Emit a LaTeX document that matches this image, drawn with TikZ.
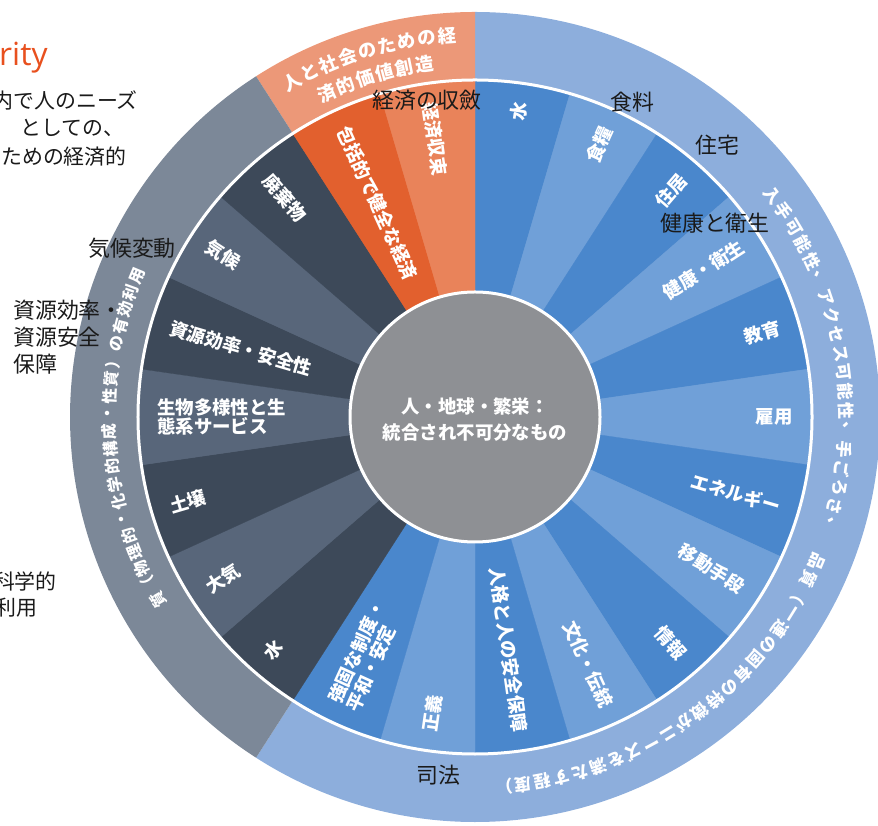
\documentclass[tikz,border=0pt]{standalone}
\usepackage{fontspec}
\setmainfont{Noto Sans CJK JP}
\newfontfamily\latinfont{Open Sans}
\definecolor{ringblue}{HTML}{8DAEDC}
\definecolor{ringorange}{HTML}{EC9878}
\definecolor{ringgray}{HTML}{7C8898}
\definecolor{bA}{HTML}{4A87CC}
\definecolor{bB}{HTML}{70A0D8}
\definecolor{gA}{HTML}{3D4959}
\definecolor{gB}{HTML}{58667A}
\definecolor{oA}{HTML}{E2602E}
\definecolor{oB}{HTML}{E9835A}
\definecolor{coregray}{HTML}{8E9094}
\definecolor{rityred}{HTML}{E8501E}
\definecolor{ink}{HTML}{1A1A1A}
\begin{document}
\begin{tikzpicture}[x=1bp,y=1bp,
  seglabel/.style={text=white, inner sep=0pt, font=\fontsize{18.5}{20}\selectfont\bfseries},
  ringchar/.style={text=white, inner sep=0pt},
  blacklabel/.style={text=ink, inner sep=0pt, font=\fontsize{22}{27}\selectfont},
  sidetext/.style={text=ink, inner sep=0pt, font=\fontsize{21}{28}\selectfont},
]
\useasboundingbox (0,0) rectangle (878,826);
\begin{scope}[shift={(475,409)}]
  % outer ring sectors
  \fill[ringblue] (0,0) -- (90:405bp) arc[start angle=90, end angle=-122.727, radius=405bp] -- cycle;
  \fill[ringorange] (0,0) -- (90:405bp) arc[start angle=90, end angle=122.727, radius=405bp] -- cycle;
  \fill[ringgray] (0,0) -- (122.727:405bp) arc[start angle=122.727, end angle=237.273, radius=405bp] -- cycle;
  % inner segments
  \foreach \k/\col in {0/bA,1/bB,2/bA,3/bB,4/bA,5/bB,6/bA,7/bB,8/bA,9/bB,10/bA,11/bB,12/bA,
                       13/gA,14/gB,15/gA,16/gB,17/gA,18/gB,19/gA,20/oA,21/oB} {
    \pgfmathsetmacro\aa{90-\k*360/22}
    \pgfmathsetmacro\ab{90-(\k+1)*360/22}
    \filldraw[fill=\col, draw=\col, line width=0.3bp] (0,0) -- (\aa:337bp) arc[start angle=\aa, end angle=\ab, radius=337bp] -- cycle;
  }
  \draw[white, line width=3bp] (0,0) circle[radius=337bp];
  \filldraw[fill=coregray, draw=white, line width=3bp] (0,0) circle[radius=125bp];
  \node[text=white, align=center, inner sep=0pt, font=\fontsize{18.5}{26}\selectfont\bfseries] (core) at (0,-3) {人・地球・繁栄：\\統合され不可分なもの};
  % segment labels, right half
  \foreach \k/\txt in {0/水,1/食糧,2/住居,3/健康・衛生,4/教育,5/雇用,6/エネルギー,7/移動手段,8/情報,9/文化・伝統,10/人格と人の安全保障} {
    \pgfmathsetmacro\m{90-(\k+0.5)*360/22}
    \node[seglabel, anchor=east, rotate=\m, align=right] (s\k) at (\m:318bp) {\txt};
  }
  % segment labels, left half
  \foreach \k/\txt in {11/正義,12/{強固な制度・\\平和・安定},13/水,14/大気,15/土壌,16/{生物多様性と生\\態系サービス},17/資源効率・安全性,18/気候,19/廃棄物,20/包括的で健全な経済,21/経済収束} {
    \pgfmathsetmacro\m{90-(\k+0.5)*360/22}
    \pgfmathsetmacro\rot{\m+180}
    \node[seglabel, anchor=west, rotate=\rot, align=left] (s\k) at (\m:318bp) {\txt};
  }
  % blue ring text
  \foreach \ch [count=\i from 0] in {入,手,可,能,性,、,ア,ク,セ,ス,可,能,性,、,手,ご,ろ,さ,、,品,質,（,一,連,の,固,有,の,特,徴,が,ニ,ー,ズ,を,満,た,す,程,度,）} {
    \pgfmathsetmacro\a{36.7-(\i+(\i>18))*2.98}
    \pgfmathsetmacro\rot{\a-90}
    \node[ringchar, font=\fontsize{17}{17}\selectfont\bfseries, rotate=\rot] (bl\i) at (\a:371bp) {\ch};
  }
  % gray ring text
  \foreach \ch [count=\i from 0] in {質,（,物,理,的,・,化,学,的,構,成,・,性,質,）,の,有,効,利,用} {
    \pgfmathsetmacro\a{210-\i*2.77}
    \pgfmathsetmacro\rot{\a-90}
    \node[ringchar, font=\fontsize{16}{16}\selectfont\bfseries, rotate=\rot] (gr\i) at (\a:366bp) {\ch};
  }
  % orange ring text
  \foreach \ch [count=\i from 0] in {人,と,社,会,の,た,め,の,経} {
    \pgfmathsetmacro\a{118.64-\i*3.06}
    \pgfmathsetmacro\rot{\a-90}
    \node[ringchar, font=\fontsize{18.5}{18}\selectfont\bfseries, rotate=\rot] (oa\i) at (\a:382bp) {\ch};
  }
  \foreach \ch [count=\i from 0] in {済,的,価,値,創,造} {
    \pgfmathsetmacro\a{114.6-\i*3.283}
    \pgfmathsetmacro\rot{\a-90}
    \node[ringchar, font=\fontsize{18.5}{18}\selectfont\bfseries, rotate=\rot] (ob\i) at (\a:356bp) {\ch};
  }
\end{scope}
% black overlay labels
\node[blacklabel] (econ) at (427,726) {経済の収斂};
\node[blacklabel] (food) at (632,724) {食料};
\node[blacklabel] (house) at (717,681) {住宅};
\node[blacklabel] (health) at (715,603) {健康と衛生};
\node[blacklabel] (climate) at (132,578) {気候変動};
\node[blacklabel, anchor=west, align=left] (resource) at (13,489) {資源効率・\\資源安全\\保障};
\node[blacklabel] (justice) at (438,51) {司法};
% cropped heading text at top-left
\node[text=rityred, inner sep=0pt, anchor=base west, font=\latinfont\fontsize{32}{32}\selectfont] (rity) at (-1,760) {rity};
\node[sidetext, anchor=east] (t1) at (138,726) {内で人のニーズ};
\node[sidetext, anchor=west] (t2) at (20,698) {としての、};
\node[sidetext, anchor=west] (t3) at (1,669) {ための経済的};
\node[sidetext, anchor=east] (t4) at (57,244) {科学的};
\node[sidetext, anchor=east] (t5) at (38,218) {利用};
\end{tikzpicture}
\end{document}
